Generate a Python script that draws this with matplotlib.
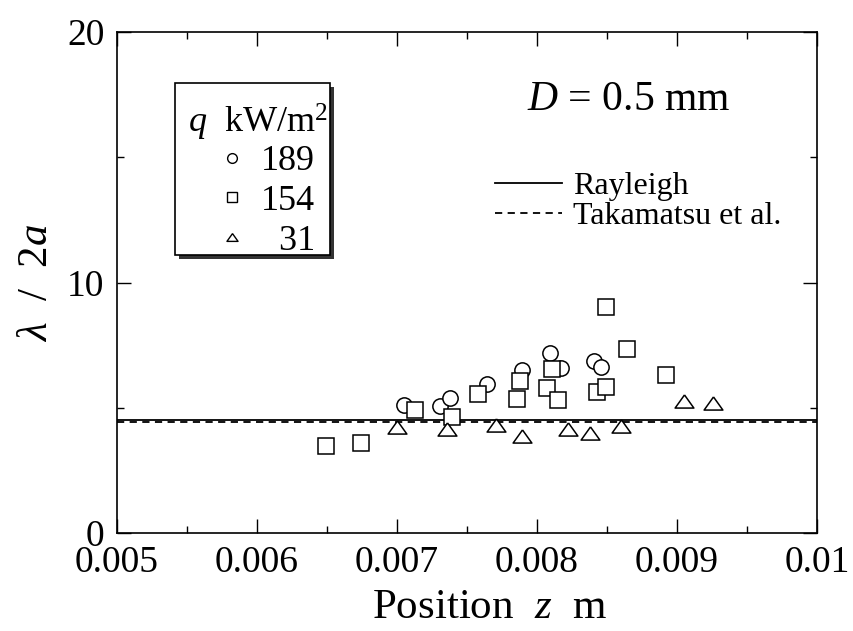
import matplotlib
matplotlib.use('Agg')
import matplotlib.pyplot as plt
from matplotlib.lines import Line2D
from matplotlib.patches import Rectangle
from matplotlib.ticker import MultipleLocator

# ---- data ----
circle_z = [0.00705, 0.00731, 0.00738, 0.00764, 0.00789, 0.00809, 0.00817, 0.00841, 0.00846]
circle_y = [5.11, 5.08, 5.38, 5.95, 6.49, 7.17, 6.60, 6.87, 6.64]

square_z = [0.00649, 0.00674, 0.00713, 0.00739, 0.00758, 0.00786, 0.00788, 0.00807,
            0.00811, 0.00815, 0.00843, 0.00849, 0.00849, 0.00864, 0.00892]
square_y = [3.47, 3.58, 4.91, 4.62, 5.54, 5.35, 6.07, 5.78,
            6.53, 5.31, 5.62, 5.82, 9.01, 7.33, 6.31]

tri_z = [0.00700, 0.00736, 0.00771, 0.00789, 0.00822, 0.00838, 0.00860, 0.00905, 0.00926]
tri_y = [4.24, 4.15, 4.31, 3.88, 4.15, 4.00, 4.28, 5.28, 5.20]

q_labels = ['189', '154', '  31']
line_z = [0.005, 0.01]
rayleigh = [4.51, 4.51]
takamatsu = [4.45, 4.45]
x_ticks = [0.005, 0.006, 0.007, 0.008, 0.009, 0.01]
x_tick_labels = ['0.005', '0.006', '0.007', '0.008', '0.009', '0.01']

plt.rcParams['font.family'] = ['Liberation Serif', 'DejaVu Serif']
plt.rcParams['mathtext.fontset'] = 'custom'
plt.rcParams['mathtext.rm'] = 'Liberation Serif'
plt.rcParams['mathtext.it'] = 'Liberation Serif:italic'

W, H = 854, 631
fig = plt.figure(figsize=(W / 100, H / 100), dpi=100)
AX_L, AX_R, AX_T, AX_B = 117, 817, 32, 533
ax = fig.add_axes([AX_L / W, 1 - AX_B / H, (AX_R - AX_L) / W, (AX_B - AX_T) / H])


def axc(px, py):
    """pixel position (from top-left) -> axes fraction"""
    return (px - AX_L) / (AX_R - AX_L), (AX_B - py) / (AX_B - AX_T)


tri_marker = [(0, 0.7), (-1, -0.7), (1, -0.7), (0, 0.7)]

mk = dict(ls='none', mfc='white', mec='black', mew=1.1, zorder=3)
ax.plot(circle_z, circle_y, marker='o', ms=11, **mk)
ax.plot(square_z, square_y, marker='s', ms=11, **mk)
ax.plot(tri_z, tri_y, marker=tri_marker, ms=13.5, **mk)

l1, = ax.plot(line_z, rayleigh, color='black', lw=1.3, ls='-')
l2, = ax.plot(line_z, takamatsu, color='black', lw=1.3, ls=(0, (4, 3)))

ax.set_xlim(0.005, 0.01)
ax.set_ylim(0, 20)
ax.set_xticks(x_ticks)
ax.set_xticklabels(x_tick_labels)
ax.xaxis.set_minor_locator(MultipleLocator(0.0005))
ax.yaxis.set_major_locator(MultipleLocator(10))
ax.yaxis.set_minor_locator(MultipleLocator(5))
ax.tick_params(which='both', direction='in', top=True, right=True, width=1.0,
               labelsize=27, colors='black')
ax.tick_params(which='major', length=10, pad=9)
ax.tick_params(which='minor', length=5)
for s in ax.spines.values():
    s.set_linewidth(1.2)

ax.set_xlabel(r'Position  $z$  m', fontsize=31)
ax.xaxis.set_label_coords(axc(490, 0)[0], -0.11)
ax.set_ylabel(r'$\lambda$  /  2$a$', fontsize=31)
ax.yaxis.set_label_coords(axc(56, 0)[0], 0.5)

# legend box with shadow
x0, y0 = axc(175, 255)
x1, y1 = axc(330, 83)
sx, sy = 4 / (AX_R - AX_L), 4 / (AX_B - AX_T)
shadow = Rectangle((x0 + sx, y0 - sy), x1 - x0, y1 - y0, transform=ax.transAxes,
                   facecolor='0.2', edgecolor='0.2', lw=0, zorder=3.9)
box = Rectangle((x0, y0), x1 - x0, y1 - y0, transform=ax.transAxes,
                facecolor='white', edgecolor='black', lw=1.2, zorder=4)
ax.add_patch(shadow)
ax.add_patch(box)

tx, ty = axc(188, 122)
ax.text(tx, ty, r'$q$  kW/m$^2$', transform=ax.transAxes, fontsize=26,
        ha='left', va='center', zorder=5)

handles = [
    Line2D([], [], marker='o', ls='none', mfc='white', mec='black', mew=1.0, ms=7),
    Line2D([], [], marker='s', ls='none', mfc='white', mec='black', mew=1.0, ms=7),
    Line2D([], [], marker=tri_marker, ls='none', mfc='white', mec='black', mew=1.0, ms=8),
]
leg1 = ax.legend(handles, q_labels, loc='upper left', bbox_to_anchor=axc(218, 145),
                 frameon=False, fontsize=26, handlelength=0.8, handletextpad=0.4,
                 borderpad=0, labelspacing=0.18, borderaxespad=0)
leg1.set_zorder(6)
ax.add_artist(leg1)

leg2 = ax.legend([l1, l2], ['Rayleigh', 'Takamatsu et al.'], loc='upper left',
                 bbox_to_anchor=axc(495, 172), frameon=False, fontsize=23,
                 handlelength=2.1, handletextpad=0.35, labelspacing=0.0,
                 borderaxespad=0, borderpad=0)

dx, dy = axc(527, 100)
ax.text(dx, dy, r'$D$ = 0.5 mm', transform=ax.transAxes, fontsize=30,
        ha='left', va='center')

fig.savefig('out.png', dpi=100)
